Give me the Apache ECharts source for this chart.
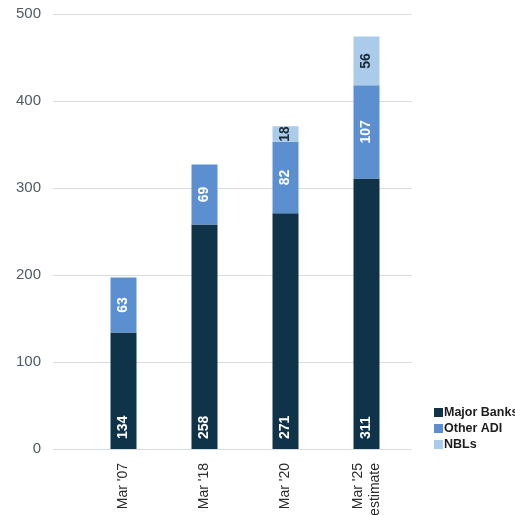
<!DOCTYPE html>
<html><head><meta charset="utf-8">
<script src="https://cdn.jsdelivr.net/npm/echarts@6/dist/echarts.min.js"></script>
<style>html,body{margin:0;padding:0;background:#fff}#c{width:515px;height:515px}</style>
</head><body><div id="c"></div>
<script>
const categories = ["Mar '07", "Mar '18", "Mar '20", "Mar '25\nestimate"];
const majorBanks = [134, 258, 271, 311];
const otherADI = [63, 69, 82, 107];
const nbls = [null, null, 18, 56];
const yTicks = [0, 100, 200, 300, 400, 500];

const font = 'Arial, "Liberation Sans", sans-serif';
const chart = echarts.init(document.getElementById('c'));
function lab(color, pos) {
  return {
    show: true, position: pos, rotate: 90, color: color,
    fontFamily: font, fontWeight: 'bold', fontSize: 14,
    align: pos === 'insideBottom' ? 'left' : 'center',
    verticalAlign: 'middle', distance: 10,
    formatter: p => p.value == null ? '' : String(p.value)
  };
}
chart.setOption({
  animation: false,
  legend: {
    orient: 'vertical', left: 434, top: 406, padding: 0, itemWidth: 9, itemHeight: 9, itemGap: 3,
    icon: 'rect',
    textStyle: { fontFamily: font, fontWeight: 'bold', fontSize: 12.5, color: '#1c1c1c', padding: [0, 0, 0, -4] },
    data: ['Major Banks', 'Other ADI', 'NBLs']
  },
  grid: [
    { left: 53, right: 103, top: 14, bottom: 66, containLabel: false, outerBoundsMode: 'none' },
    { left: 83, width: 324, top: 14, bottom: 66, containLabel: false, outerBoundsMode: 'none' }
  ],
  xAxis: [
    { gridIndex: 0, type: 'value', show: false, min: 0, max: 1 },
    {
      gridIndex: 1, type: 'category', data: categories,
      axisLine: { show: false }, axisTick: { show: false },
      axisLabel: { rotate: 90, color: '#2b2b2b', fontFamily: font, fontSize: 14, margin: 14, lineHeight: 17 }
    }
  ],
  yAxis: [
    {
      gridIndex: 0, type: 'value', min: yTicks[0], max: yTicks[yTicks.length - 1], interval: 100,
      axisLine: { show: false }, axisTick: { show: false },
      axisLabel: { color: '#4f5a66', fontFamily: font, fontSize: 15, margin: 12 },
      splitLine: { lineStyle: { color: '#d8dde1', width: 1 } }
    },
    {
      gridIndex: 1, type: 'value', min: yTicks[0], max: yTicks[yTicks.length - 1],
      show: false, splitLine: { show: false }
    }
  ],
  series: [
    { name: 'Major Banks', type: 'bar', stack: 't', xAxisIndex: 1, yAxisIndex: 1, barWidth: 26,
      data: majorBanks, itemStyle: { color: '#0f3349' }, label: lab('#ffffff', 'insideBottom') },
    { name: 'Other ADI', type: 'bar', stack: 't', xAxisIndex: 1, yAxisIndex: 1, barWidth: 26,
      data: otherADI, itemStyle: { color: '#5b8fcf' }, label: lab('#ffffff', 'inside') },
    { name: 'NBLs', type: 'bar', stack: 't', xAxisIndex: 1, yAxisIndex: 1, barWidth: 26,
      data: nbls, itemStyle: { color: '#abcbeb' }, label: lab('#1c2b36', 'inside') }
  ]
});
</script></body></html>
